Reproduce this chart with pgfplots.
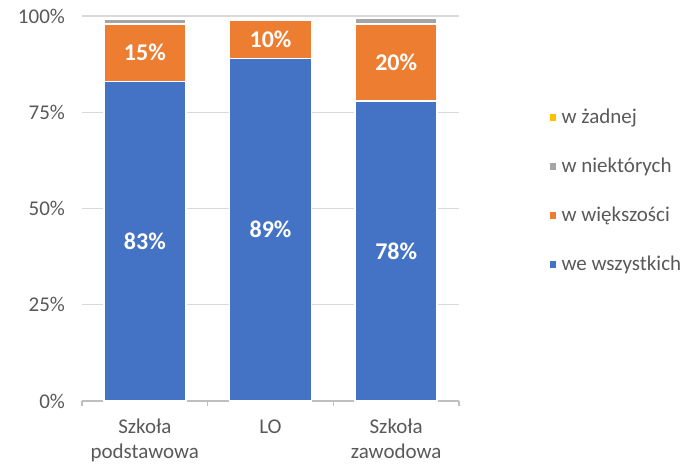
\documentclass[border=0pt]{standalone}
\usepackage{fontspec}
\setmainfont{Carlito}
\usepackage{pgfplots}
\pgfplotsset{compat=1.18}
\definecolor{cBlue}{HTML}{4472C4}
\definecolor{cOrange}{HTML}{ED7D31}
\definecolor{cGray}{HTML}{A5A5A5}
\definecolor{cYellow}{HTML}{FFC000}
\definecolor{cText}{HTML}{595959}
\definecolor{cGrid}{HTML}{D9D9D9}
\definecolor{cAxis}{HTML}{BFBFBF}
\begin{document}
\begin{tikzpicture}
\useasboundingbox (0,0) rectangle (346pt,231.5pt);
\begin{axis}[
    at={(41pt,31pt)}, anchor=south west,
    scale only axis,
    width=188.5pt, height=192.5pt,
    ybar stacked,
    bar width=41pt,
    xmin=-0.5, xmax=2.5,
    ymin=0, ymax=100,
    xtick={0,1,2},
    xticklabels={{Szkoła\\podstawowa},LO,{Szkoła\\zawodowa}},
    xticklabel style={align=center, font=\fontsize{10.5}{12.3}\selectfont, text=cText,
        inner sep=0.5pt, yshift=-8.5pt},
    ytick={0,25,50,75,100},
    yticklabels={0\%,25\%,50\%,75\%,100\%},
    yticklabel style={font=\fontsize{10.5}{12}\selectfont, text=cText, xshift=-5pt},
    ymajorgrids,
    grid style={cGrid, line width=0.6pt},
    axis x line*=bottom,
    axis y line*=left,
    y axis line style={draw=none},
    x axis line style={cAxis, line width=0.6pt, -},
    major tick length=0pt,
    extra x ticks={-0.5,0.5,1.5,2.5},
    extra x tick labels={},
    extra x tick style={major tick length=2.5pt, tick align=outside, tick style={cAxis, line width=0.6pt}, grid=none},
    legend cell align=left,
    reverse legend,
    legend style={draw=none, fill=none, at={(1.235,0.771)}, anchor=north west,
        font=\fontsize{10.5}{12}\selectfont, text=cText, row sep=11.7pt, inner sep=0pt},
    legend image code/.code={\fill[#1] (0pt,-2pt) rectangle (4pt,2pt);},
    visualization depends on=rawy \as \rawy,
    every node near coord/.append style={anchor=center,
        text=white, font=\bfseries\fontsize{12}{12}\selectfont},
]
\addplot[fill=cBlue, draw=white, line width=0.8pt,
    nodes near coords={\pgfmathprintnumber[assume math mode=true]{\rawy}\%}]
    coordinates {(0,83) (1,89) (2,78)};
\addplot[fill=cOrange, draw=white, line width=0.8pt,
    nodes near coords={\pgfmathprintnumber[assume math mode=true]{\rawy}\%}]
    coordinates {(0,15) (1,10) (2,20)};
\addplot[fill=cGray, draw=white, line width=0.8pt]
    coordinates {(0,1.2) (1,0) (2,1.4)};
\addplot[fill=cYellow, draw=white, line width=0.8pt]
    coordinates {(0,0) (1,0) (2,0)};
\legend{we wszystkich, w większości, w niektórych, w żadnej}
\end{axis}
\end{tikzpicture}
\end{document}
